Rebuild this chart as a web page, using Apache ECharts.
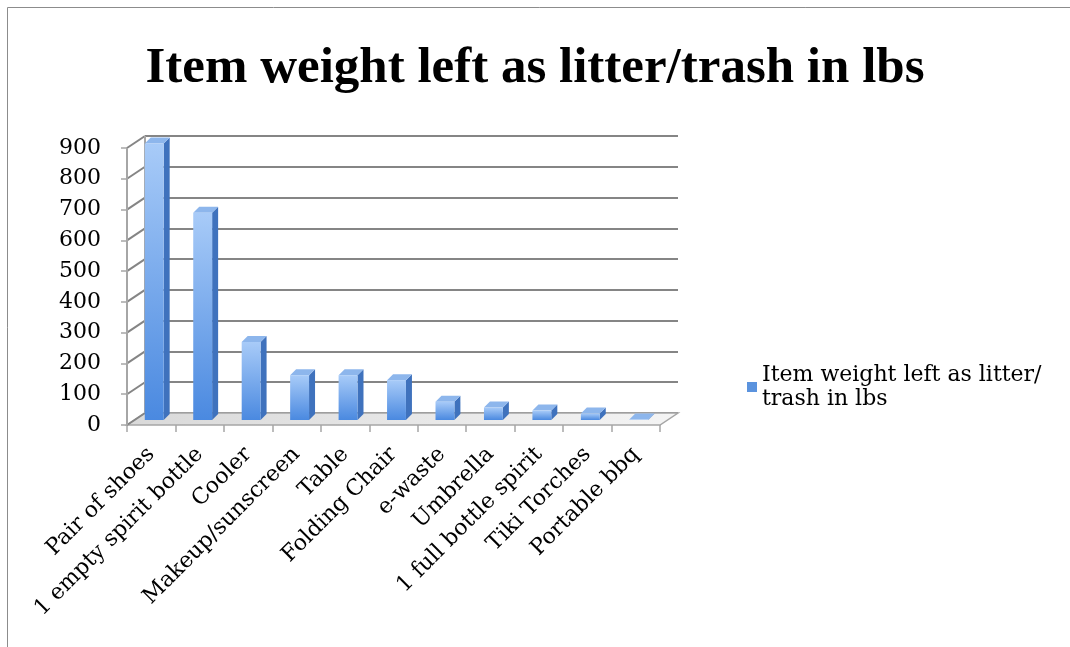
<!DOCTYPE html>
<html>
<head>
<meta charset="utf-8">
<script src="https://cdn.jsdelivr.net/npm/echarts@6/dist/echarts.min.js"></script>
<style>
  html, body { margin: 0; padding: 0; background: #fff; }
  #chart { width: 1070px; height: 647px; }
</style>
</head>
<body>
<div id="chart"></div>
<script>
// values
const categories = ['Pair of shoes', '1 empty spirit bottle', 'Cooler', 'Makeup/sunscreen', 'Table',
  'Folding Chair', 'e-waste', 'Umbrella', '1 full bottle spirit', 'Tiki Torches', 'Portable bbq']
const weights = [905, 680, 260, 152, 152, 136, 66, 47, 37, 28, 8]
const yTicks = [0, 100, 200, 300, 400, 500, 600, 700, 800, 900]
const seriesName = 'Item weight left as litter/trash in lbs'

const serif = '"DejaVu Serif", "Liberation Serif", serif'
const titleFont = '"Liberation Serif", serif'
const gridLineColor = '#858585'
// 3D depth offset of the back wall
const DX = 18, DY = -12

const chart = echarts.init(document.getElementById('chart'))

function renderBar(params, api) {
  const top = api.coord([api.value(0), api.value(1)])
  const base = api.coord([api.value(0), 0])
  const w = api.size([1, 0])[0] * 0.39
  const d = 6
  const x0 = top[0] - w / 2 + 3, x1 = x0 + w
  const yt = top[1] - 3, yb = base[1] - 5
  return {
    type: 'group',
    children: [
      {
        type: 'polygon',
        shape: { points: [[x1, yt], [x1 + d, yt - d], [x1 + d, yb - d], [x1, yb]] },
        style: { fill: '#3f72bd' }
      },
      {
        type: 'polygon',
        shape: { points: [[x0, yt], [x0 + d, yt - d], [x1 + d, yt - d], [x1, yt]] },
        style: { fill: '#8db6ec' }
      },
      {
        type: 'rect',
        shape: { x: x0, y: yt, width: w, height: yb - yt },
        style: {
          fill: new echarts.graphic.LinearGradient(0, 0, 0, 1, [
            { offset: 0, color: '#a8cbf8' },
            { offset: 1, color: '#4a89e0' }
          ])
        }
      }
    ]
  }
}

function renderFloor(params, api) {
  const cs = params.coordSys
  const base = api.coord([0, 0])[1]
  const left = cs.x, right = cs.x + cs.width
  const children = [{
    type: 'polygon',
    shape: { points: [[left, base], [left + DX, base + DY], [right + DX, base + DY], [right, base]] },
    style: {
      fill: new echarts.graphic.LinearGradient(0, 0, 1, 0, [
        { offset: 0, color: '#d9d9d9' },
        { offset: 1, color: '#f4f4f4' }
      ]),
      stroke: '#a6a6a6', lineWidth: 1.5
    }
  }]
  // side wall: diagonal lines at each tick and its edges
  yTicks.forEach(v => {
    const y = api.coord([0, v])[1]
    children.push({
      type: 'line',
      shape: { x1: left, y1: y, x2: left + DX, y2: y + DY },
      style: { stroke: gridLineColor, lineWidth: 2 }
    })
  })
  const yTop = api.coord([0, yTicks[yTicks.length - 1]])[1]
  children.push({
    type: 'line',
    shape: { x1: left + DX, y1: yTop + DY, x2: left + DX, y2: base + DY },
    style: { stroke: '#a6a6a6', lineWidth: 2 }
  })
  children.push({
    type: 'line',
    shape: { x1: left, y1: yTop, x2: left, y2: base },
    style: { stroke: '#a6a6a6', lineWidth: 2 }
  })
  return { type: 'group', children }
}

chart.setOption({
  animation: false,
  textStyle: { fontFamily: serif },
  title: {
    text: 'Item weight left as litter/trash in lbs',
    left: 'center', top: 38,
    textStyle: { fontFamily: titleFont, fontSize: 51, fontWeight: 'bold', color: '#000' }
  },
  legend: {
    data: [seriesName],
    left: 742, top: 358,
    itemWidth: 10, itemHeight: 10, itemGap: 0,
    icon: 'rect',
    formatter: () => 'Item weight left as litter/\ntrash in lbs',
    textStyle: { fontFamily: serif, fontSize: 22, lineHeight: 24, color: '#000' }
  },
  graphic: [{
    type: 'rect',
    shape: { x: 7.5, y: 7.5, width: 1100, height: 700 },
    style: { fill: 'none', stroke: '#8c8c8c', lineWidth: 1 },
    silent: true
  }],
  grid: [
    { left: 127, right: 410, top: 148, bottom: 222 },
    { left: 127 + DX, right: 410 - DX, top: 148 + DY, bottom: 222 - DY }
  ],
  xAxis: [
    {
      type: 'category', data: categories, gridIndex: 0,
      axisLine: { show: false },
      axisTick: { show: true, length: 7, lineStyle: { color: '#a6a6a6', width: 1.5 } },
      axisLabel: { rotate: 45, margin: 26, fontSize: 22, color: '#000', fontFamily: serif, interval: 0 }
    },
    { type: 'category', data: categories, gridIndex: 1, show: false }
  ],
  yAxis: [
    {
      type: 'value', gridIndex: 0, min: 0, max: 900, interval: 100,
      axisLine: { show: false },
      axisTick: { show: true, length: 6, lineStyle: { color: '#a6a6a6', width: 1.5 } },
      splitLine: { show: false },
      axisLabel: { fontSize: 22, color: '#000', fontFamily: serif, margin: 26 }
    },
    {
      type: 'value', gridIndex: 1, min: 0, max: 900, interval: 100,
      axisLine: { show: false }, axisTick: { show: false }, axisLabel: { show: false },
      splitLine: { lineStyle: { color: gridLineColor, width: 2 } }
    }
  ],
  series: [
    {
      type: 'custom', xAxisIndex: 0, yAxisIndex: 0, silent: true,
      data: [[0, 0]], renderItem: renderFloor, z: 1
    },
    {
      name: seriesName, type: 'custom', xAxisIndex: 0, yAxisIndex: 0,
      itemStyle: { color: '#5b93de' },
      encode: { x: 0, y: 1 },
      data: weights.map((v, i) => [i, v]),
      renderItem: renderBar, z: 3
    }
  ]
})
</script>
</body>
</html>
